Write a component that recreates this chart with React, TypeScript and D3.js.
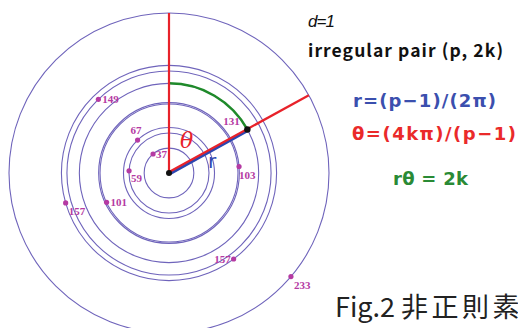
import React from "react";
import * as d3 from "d3";

// Irregular pairs (p, 2k)
const primes = [37, 59, 67, 101, 103, 131, 149, 157, 157, 233];
const twoK = [32, 44, 58, 68, 24, 22, 130, 62, 110, 84];
// label placement relative to each dot: [dx, dy, anchor]
const labelPos: [number, number, string][] = [
  [3, 4, "start"],
  [2, 11, "start"],
  [-7, -6, "start"],
  [4, 4, "start"],
  [0, 12, "start"],
  [-24, -4, "start"],
  [4, 4, "start"],
  [-3, 4, "end"],
  [3, 12, "start"],
  [3, 12, "start"],
];
// circles r = (p-1)/(2π)
const ringPrimes = [37, 59, 67, 101, 103, 131, 149, 157, 233];
const highlightIndex = 5; // (131, 22)

const W = 518;
const H = 328;
const cx = 169;
const cy = 173;

const radiusOf = (p: number) => (p - 1) / (2 * Math.PI);
const angleOf = (p: number, k2: number) => (2 * Math.PI * k2) / (p - 1);

const rScale = d3.scaleLinear().domain([0, radiusOf(233)]).range([0, 160]);

const pt = (r: number, a: number): [number, number] => [
  cx + r * Math.sin(a),
  cy - r * Math.cos(a),
];

export default function App() {
  const outerR = rScale(radiusOf(233));
  const hp = primes[highlightIndex];
  const hk = twoK[highlightIndex];
  const hr = rScale(radiusOf(hp));
  const ha = angleOf(hp, hk);
  const [dotX, dotY] = pt(hr, ha);
  const [endX, endY] = pt(outerR, ha);
  const greenArc = d3.arc()({
    innerRadius: hr,
    outerRadius: hr,
    startAngle: 0,
    endAngle: ha,
  } as any) as string;
  // small perpendicular offset so blue and red rays sit side by side
  const nx = Math.cos(ha);
  const ny = Math.sin(ha);

  return (
    <svg
      width={W}
      height={H}
      style={{ position: "absolute", left: 0, top: 0, background: "#fff" }}
    >
      {ringPrimes.map((p) => (
        <circle
          key={p}
          cx={cx}
          cy={cy}
          r={rScale(radiusOf(p))}
          fill="none"
          stroke="#6f64bb"
          strokeWidth={1.1}
        />
      ))}
      <path d={greenArc} transform={`translate(${cx},${cy})`} fill="none" stroke="#1f8a2a" strokeWidth={2.5} />
      <line x1={cx} y1={cy} x2={cx} y2={cy - outerR} stroke="#e8222a" strokeWidth={2.2} />
      <line
        x1={cx + nx * 1.2}
        y1={cy + ny * 1.2}
        x2={dotX + nx * 1.2}
        y2={dotY + ny * 1.2}
        stroke="#2c46b0"
        strokeWidth={3}
      />
      <line
        x1={cx - nx * 0.8}
        y1={cy - ny * 0.8}
        x2={endX}
        y2={endY}
        stroke="#e8222a"
        strokeWidth={2.2}
      />
      <circle cx={cx} cy={cy} r={3} fill="#111" />
      <circle cx={dotX} cy={dotY} r={3.2} fill="#111" />
      {primes.map((p, i) => {
        if (i === highlightIndex) return null;
        const [x, y] = pt(rScale(radiusOf(p)), angleOf(p, twoK[i]));
        return <circle key={"d" + i} cx={x} cy={y} r={2.6} fill="#b53aa3" />;
      })}
      {primes.map((p, i) => {
        const [x, y] = pt(rScale(radiusOf(p)), angleOf(p, twoK[i]));
        const [dx, dy, anchor] = labelPos[i];
        return (
          <text
            key={"l" + i}
            x={x + dx}
            y={y + dy}
            textAnchor={anchor as any}
            fontFamily="Liberation Serif"
            fontWeight="bold"
            fontSize={11}
            fill="#b53aa3"
          >
            {p}
          </text>
        );
      })}
      <text x={180} y={148} fontFamily="DejaVu Serif" fontStyle="italic" fontSize={22} fill="#e8222a">
        θ
      </text>
      <text x={208} y={168} fontFamily="DejaVu Sans" fontSize={20} fill="#2c46b0">
        r
      </text>

      <text x={308} y={27} fontFamily="Liberation Sans" fontStyle="italic" fontSize={17} textLength={27} fill="#111">
        d=1
      </text>
      <text x={308} y={57} fontFamily="Noto Sans CJK JP" fontWeight="bold" fontSize={17.5} textLength={195} lengthAdjust="spacing" fill="#111">
        irregular pair (p, 2k)
      </text>
      <text x={353} y={107} fontFamily="DejaVu Sans" fontWeight="bold" fontSize={18} textLength={143} lengthAdjust="spacing" fill="#3b4fae">
        r=(p−1)/(2π)
      </text>
      <text x={352} y={140} fontFamily="DejaVu Sans" fontWeight="bold" fontSize={18} textLength={164} lengthAdjust="spacing" fill="#ea2a2a">
        θ=(4kπ)/(p−1)
      </text>
      <text x={393} y={185} fontFamily="DejaVu Sans" fontWeight="bold" fontSize={18} textLength={75} lengthAdjust="spacing" fill="#2a8a35">
        rθ = 2k
      </text>
      <text x={335} y={317} fontFamily="Noto Sans CJK JP" fontSize={27} fill="#222">
        Fig.2 <tspan letterSpacing={3.5}>非正則素</tspan>
      </text>
    </svg>
  );
}
